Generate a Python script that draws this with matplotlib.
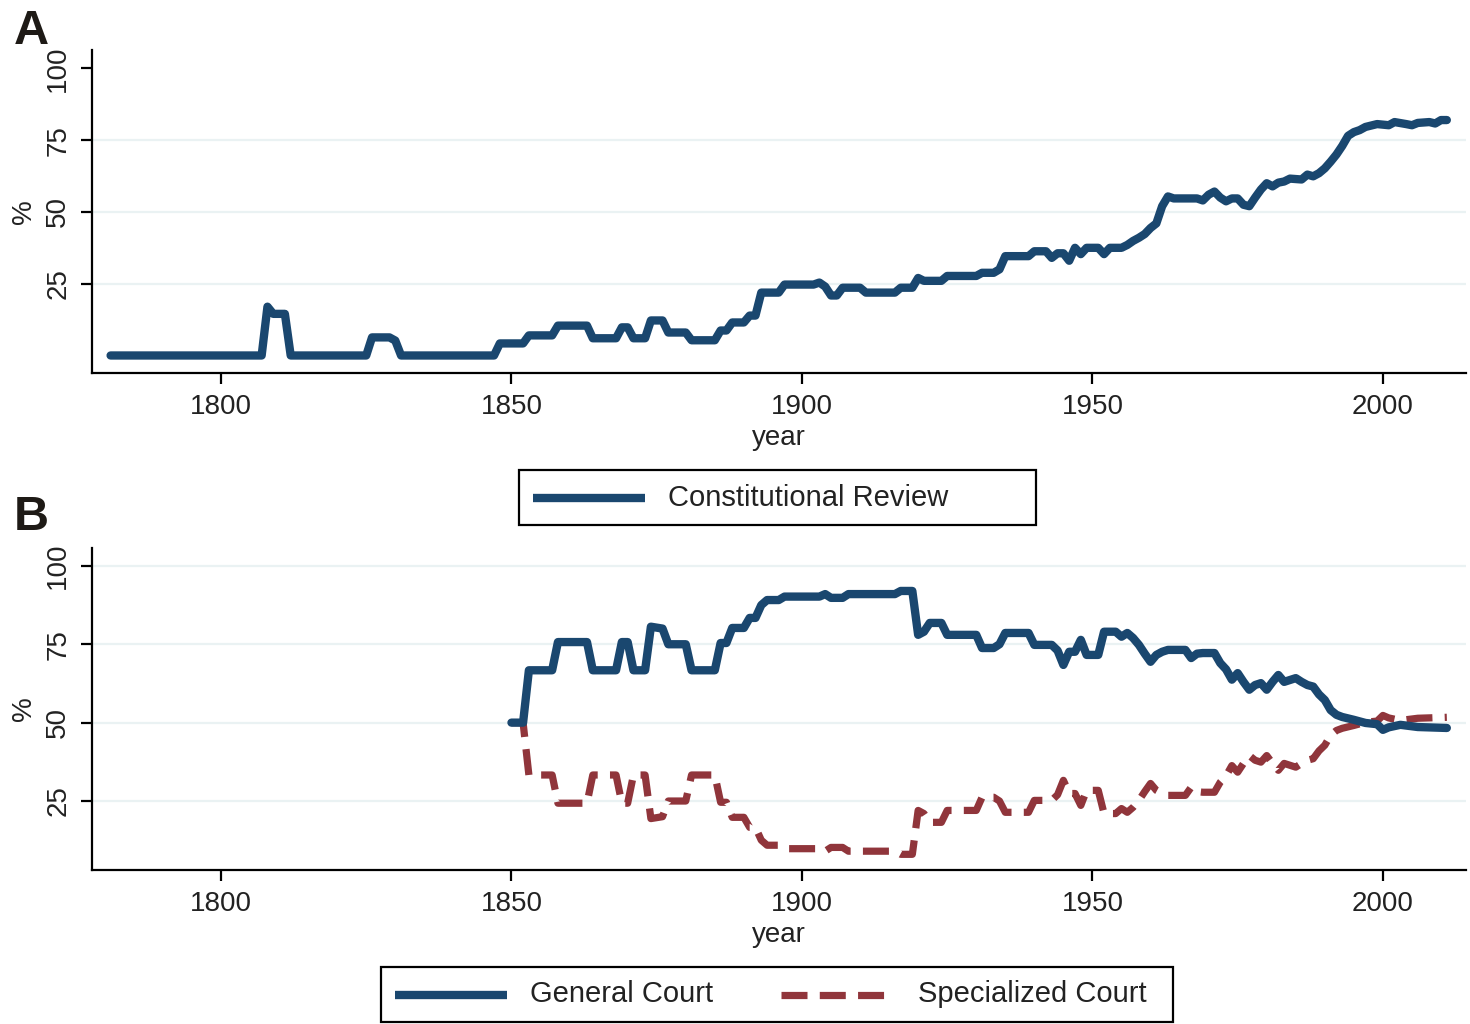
import matplotlib
matplotlib.use("Agg")
import matplotlib.pyplot as plt
from matplotlib.lines import Line2D
from matplotlib.patches import Rectangle

plt.rcParams['font.family'] = ['Liberation Sans', 'DejaVu Sans']

# ---------------- data ----------------
cr_years = [1781, 1807, 1808, 1809, 1811, 1812, 1825, 1826, 1829, 1830, 1831, 1847, 1848, 1852,
            1853, 1857, 1858, 1863, 1864, 1868, 1869, 1870, 1871, 1873, 1874, 1876, 1877, 1880,
            1881, 1885, 1886, 1887, 1888, 1890, 1891, 1892, 1893, 1896, 1897, 1902, 1903, 1904,
            1905, 1906, 1907, 1910, 1911, 1916, 1917, 1919, 1920, 1921, 1924, 1925, 1930, 1931,
            1933, 1934, 1935, 1939, 1940, 1942, 1943, 1944, 1945, 1946, 1947, 1948, 1949, 1951,
            1952, 1953, 1955, 1956, 1957, 1958, 1959, 1960, 1961, 1962, 1963, 1964, 1968, 1969,
            1970, 1971, 1972, 1973, 1974, 1975, 1976, 1977, 1978, 1979, 1980, 1981, 1982, 1983,
            1984, 1986, 1987, 1988, 1989, 1990, 1991, 1992, 1993, 1994, 1995, 1996, 1997, 1999,
            2001, 2002, 2004, 2005, 2006, 2008, 2009, 2010, 2011]
cr_values = [0, 0, 17, 14.5, 14.5, 0, 0, 6.3, 6.3, 5.2, 0, 0, 4.2, 4.2,
             7, 7, 10.4, 10.4, 6, 6, 9.8, 9.8, 6, 6, 12.2, 12.2, 8, 8,
             5.3, 5.3, 8.7, 8.7, 11.5, 11.5, 13.9, 13.9, 21.9, 21.9, 24.7, 24.7, 25.4, 24,
             20.9, 20.9, 23.6, 23.6, 21.9, 21.9, 23.6, 23.6, 27, 26, 26, 27.7, 27.7, 28.8,
             28.8, 30, 34.6, 34.6, 36.3, 36.3, 34, 35.6, 35.6, 33, 37.5, 35.3, 37.5, 37.5,
             35.3, 37.5, 37.5, 38.5, 39.9, 41, 42.3, 44.4, 46, 52, 55.4, 54.7, 54.7, 54,
             56, 57.1, 55, 53.7, 54.7, 54.7, 52.5, 52, 55, 57.8, 60, 58.9, 60.2, 60.6,
             61.6, 61.3, 63, 62.4, 63.5, 65.2, 67.5, 70, 73, 76.5, 77.8, 78.5, 79.6, 80.6,
             80.2, 81.3, 80.6, 80.2, 81, 81.3, 80.8, 82, 82]

court_years = [1850, 1852, 1853, 1857, 1858, 1863, 1864, 1868, 1869, 1870, 1871, 1873, 1874, 1876,
               1877, 1880, 1881, 1885, 1886, 1887, 1888, 1890, 1891, 1892, 1893, 1894, 1896, 1897,
               1903, 1904, 1905, 1907, 1908, 1916, 1917, 1919, 1920, 1921, 1922, 1924, 1925, 1930,
               1931, 1933, 1934, 1935, 1939, 1940, 1943, 1944, 1945, 1946, 1947, 1948, 1949, 1951,
               1952, 1954, 1955, 1956, 1957, 1958, 1959, 1960, 1961, 1962, 1963, 1966, 1967, 1968,
               1969, 1971, 1972, 1973, 1974, 1975, 1976, 1977, 1978, 1979, 1980, 1981, 1982, 1983,
               1985, 1986, 1987, 1988, 1989, 1990, 1991, 1992, 1993, 1995, 1997, 1999, 2000, 2001,
               2003, 2006, 2011]
general_court = [50, 50, 66.7, 66.7, 75.7, 75.7, 66.7, 66.7, 75.7, 75.7, 66.7, 66.7, 80.6, 80,
                 75, 75, 66.7, 66.7, 75.4, 75.4, 80.2, 80.2, 83.4, 83.4, 87.5, 89.1, 89.1, 90.2,
                 90.2, 91, 89.8, 89.8, 91, 91, 92, 92, 78, 79, 81.8, 81.8, 78, 78,
                 73.8, 73.8, 75, 78.6, 78.6, 74.8, 74.8, 73, 68.4, 72.6, 72.6, 76.4, 71.6, 71.6,
                 79, 79, 77.4, 78.6, 77, 74.8, 72, 69.4, 71.6, 72.6, 73.2, 73.2, 70.6, 72,
                 72.2, 72.2, 69, 67, 63.7, 65.8, 63, 60.5, 62, 62.6, 60.5, 63, 65.2, 63,
                 64.2, 63, 62, 61.5, 59, 57.2, 54, 52.5, 51.8, 50.9, 49.9, 49.5, 47.7, 48.5,
                 49.3, 48.6, 48.3]
specialized_court = [50, 50, 33.3, 33.3, 24.3, 24.3, 33.3, 33.3, 24.3, 24.3, 33.3, 33.3, 19.4, 20,
                     25, 25, 33.3, 33.3, 24.6, 24.6, 19.8, 19.8, 16.6, 16.6, 12.5, 10.9, 10.9, 9.8,
                     9.8, 9, 10.2, 10.2, 9, 9, 8, 8, 22, 21, 18.2, 18.2, 22, 22,
                     26.2, 26.2, 25, 21.4, 21.4, 25.2, 25.2, 27, 31.6, 27.4, 27.4, 23.6, 28.4, 28.4,
                     21, 21, 22.6, 21.4, 23, 25.2, 28, 30.6, 28.4, 27.4, 26.8, 26.8, 29.4, 28,
                     27.8, 27.8, 31, 33, 36.3, 34.2, 37, 39.5, 38, 37.4, 39.5, 37, 34.8, 37,
                     35.8, 37, 38, 38.5, 41, 42.8, 46, 47.5, 48.2, 49.1, 50.1, 50.5, 52.3, 51.5,
                     50.7, 51.4, 51.7]

x_ticks = [1800, 1850, 1900, 1950, 2000]
y_ticks = [25, 50, 75, 100]
labels_a = ["Constitutional Review"]
labels_b = ["General Court", "Specialized Court"]

BLUE = "#1a476f"
RED = "#90353b"
GRID = "#eaf2f3"
TXT = "#222222"
W, H = 1470, 1024

fig = plt.figure(figsize=(W / 100, H / 100), dpi=100)
left = 92 / W
width = (1466 - 92) / W
axA = fig.add_axes([left, 1 - 373 / H, width, (373 - 50) / H])
axB = fig.add_axes([left, 1 - 870 / H, width, (870 - 548) / H])


def style(ax, ylim, grid_levels):
    ax.set_xlim(1777.8, 2014.3)
    ax.set_ylim(*ylim)
    ax.set_xticks(x_ticks)
    ax.set_yticks(y_ticks)
    ax.set_yticklabels([str(v) for v in y_ticks], rotation=90, va='center')
    for s in ['top', 'right']:
        ax.spines[s].set_visible(False)
    for s in ['left', 'bottom']:
        ax.spines[s].set_linewidth(1.6)
    ax.tick_params(axis='both', direction='out', length=8, width=1.6, labelsize=20,
                   colors='black', labelcolor=TXT)
    ax.tick_params(axis='y', pad=7)
    ax.tick_params(axis='x', pad=7)
    for g in grid_levels:
        ax.axhline(g, color=GRID, lw=1.6, zorder=0)
    ax.set_xlabel("year", fontsize=20, color=TXT, labelpad=4)
    ax.set_ylabel("%", fontsize=20, color=TXT, labelpad=6)


style(axA, (-6.1, 106.4), [25, 50, 75])
style(axB, (3.0, 105.7), [25, 50, 75, 100])

LW = 6.0
axA.plot(cr_years, cr_values, color=BLUE, lw=LW, solid_joinstyle='round',
         solid_capstyle='round', zorder=3)
axB.plot(court_years, general_court, color=BLUE, lw=LW, solid_joinstyle='round',
         solid_capstyle='round', zorder=3)
axB.plot(court_years, specialized_court, color=RED, lw=5.2, dashes=(3.6, 1.7),
         dash_capstyle='butt', dash_joinstyle='round', zorder=2)


# ---------------- legends (Stata style boxes) ----------------
def px(x, y):
    return x / W, 1 - y / H


def box(x0, y0, x1, y1):
    (fx0, fy1), (fx1, fy0) = px(x0, y0), px(x1, y1)
    fig.patches.append(Rectangle((fx0, fy0), fx1 - fx0, fy1 - fy0, transform=fig.transFigure,
                                 fill=False, edgecolor='black', lw=1.6))


def entry(hx0, hx1, yc, tx, label, color, dashed=False):
    (a, yy), (b, _) = px(hx0, yc), px(hx1, yc)
    kw = dict(color=color, lw=LW if not dashed else 5.2, transform=fig.transFigure)
    if dashed:
        kw.update(dashes=(3.6, 1.7), dash_capstyle='butt')
    else:
        kw.update(solid_capstyle='butt')
    fig.lines.append(Line2D([a, b], [yy, yy], **kw))
    fig.text(tx / W, yy, label, fontsize=21, color=TXT, va='center', ha='left')


box(519, 470, 1036, 525)
entry(533, 645, 497.5, 668, labels_a[0], BLUE)

box(381, 967, 1173, 1022)
entry(395, 507, 994.5, 530, labels_b[0], BLUE)
entry(781, 893, 994.5, 918, labels_b[1], RED, dashed=True)

fig.text(14 / W, 1 - 44 / H, "A", fontsize=35, fontweight='bold', color='#1e1a16', va='baseline')
fig.text(14 / W, 1 - 530 / H, "B", fontsize=35, fontweight='bold', color='#1e1a16', va='baseline')

fig.savefig("out.png", dpi=100, facecolor='white')
